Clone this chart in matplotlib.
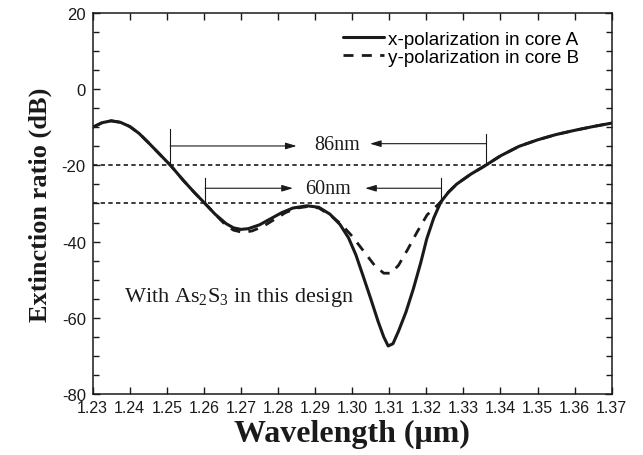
import matplotlib
matplotlib.use("Agg")
import matplotlib.pyplot as plt
from matplotlib.ticker import MultipleLocator, FormatStrFormatter

# ── Data ──────────────────────────────────────────────────────────────────────
# x-polarization in core A (solid)
wl_xpol = [1.2300, 1.2325, 1.2350, 1.2375, 1.2400, 1.2425, 1.2450, 1.2480,
           1.2510, 1.2545, 1.2575, 1.2603, 1.2630, 1.2660, 1.2680, 1.2700,
           1.2720, 1.2750, 1.2780, 1.2810, 1.2840, 1.2878, 1.2910, 1.2940,
           1.2967, 1.2990, 1.3010, 1.3030, 1.3050, 1.3070, 1.3085, 1.3097,
           1.3110, 1.3125, 1.3145, 1.3165, 1.3185, 1.3201, 1.3220, 1.3239,
           1.3260, 1.3282, 1.3320, 1.3358, 1.3400, 1.3450, 1.3500, 1.3550,
           1.3600, 1.3650, 1.3700]
er_xpol = [-10.0, -8.8, -8.3, -8.7, -9.8, -11.6, -14.0, -17.0,
           -20.0, -24.0, -27.2, -30.0, -32.8, -35.3, -36.4, -36.8,
           -36.6, -35.6, -34.0, -32.4, -31.2, -30.6, -31.0, -32.8,
           -35.5, -39.0, -43.5, -49.2, -55.0, -61.0, -65.0, -67.4,
           -66.8, -63.5, -58.5, -52.4, -45.5, -39.3, -33.8, -29.6,
           -27.0, -24.9, -22.3, -20.1, -17.5, -15.0, -13.3, -11.9,
           -10.8, -9.8, -8.9]

# y-polarization in core B (dashed)
wl_ypol = [1.2300, 1.2325, 1.2350, 1.2375, 1.2400, 1.2425, 1.2450, 1.2480,
           1.2510, 1.2545, 1.2575, 1.2603, 1.2630, 1.2660, 1.2680, 1.2705,
           1.2730, 1.2760, 1.2790, 1.2820, 1.2850, 1.2880, 1.2910, 1.2940,
           1.2970, 1.3000, 1.3030, 1.3060, 1.3085, 1.3105, 1.3125, 1.3150,
           1.3175, 1.3202, 1.3239, 1.3260, 1.3282, 1.3320, 1.3358, 1.3400,
           1.3450, 1.3500, 1.3550, 1.3600, 1.3650, 1.3700]
er_ypol = [-10.0, -8.8, -8.3, -8.7, -9.8, -11.6, -14.0, -17.0,
           -20.0, -24.0, -27.2, -30.0, -32.8, -35.8, -37.0, -37.6,
           -37.2, -36.0, -34.2, -32.4, -31.2, -30.8, -31.2, -33.0,
           -35.4, -38.6, -42.4, -46.2, -48.3, -48.3, -46.2, -42.0,
           -37.5, -33.0, -29.6, -27.0, -24.9, -22.3, -20.1, -17.5,
           -15.0, -13.3, -11.9, -10.8, -9.8, -8.9]

# bandwidth markers: 86 nm at the -20 dB level, 60 nm at the -30 dB level
BW_LEVELS  = [-20, -30]
BW_LEFT    = [1.2509, 1.2603]
BW_RIGHT   = [1.3360, 1.3239]
BW_TOPS    = [(-10.5, -11.8), (-23.3, -23.3)]
BW_ARROW_Y = [(-14.9, -14.3), (-26.0, -26.0)]
BW_TIPS    = [(1.2850, 1.3048), (1.2840, 1.3035)]
BW_LABELS  = ["86nm", "60nm"]
BW_TEXT_X  = [1.2958, 1.2935]

X_TICKS = [1.23, 1.24, 1.25, 1.26, 1.27, 1.28, 1.29, 1.30,
           1.31, 1.32, 1.33, 1.34, 1.35, 1.36, 1.37]
Y_TICKS = [-80, -60, -40, -20, 0, 20]

# ── Style ─────────────────────────────────────────────────────────────────────
plt.rcParams.update({
    "font.family":        ["Liberation Sans", "DejaVu Sans"],
    "axes.unicode_minus": False,
    "mathtext.fontset":   "custom",
    "mathtext.rm":        "Liberation Serif",
    "mathtext.it":        "Liberation Serif:italic",
    "mathtext.bf":        "Liberation Serif:bold",
})
INK   = "#1a1a1a"
SERIF = ["Liberation Serif", "DejaVu Serif"]
ARROW = "-|>,head_length=0.6,head_width=0.18"

fig = plt.figure(figsize=(6.43, 4.56), dpi=100)
ax = fig.add_axes([0.1442, 0.1338, 0.8071, 0.8355])

ax.plot(wl_xpol, er_xpol, color=INK, lw=2.2, solid_capstyle="round",
        label="x-polarization in core A")
ax.plot(wl_ypol, er_ypol, color=INK, lw=2.0, linestyle=(0, (3.6, 3.0)),
        label="y-polarization in core B")

for lvl in BW_LEVELS:
    ax.axhline(lvl, color=INK, lw=1.2, linestyle=(0, (2.6, 2.0)), zorder=1)

# ── Bandwidth annotations ─────────────────────────────────────────────────────
for i in range(2):
    xl, xr = BW_LEFT[i], BW_RIGHT[i]
    tl, tr = BW_TOPS[i]
    yl, yr = BW_ARROW_Y[i]
    tip_l, tip_r = BW_TIPS[i]
    ax.plot([xl, xl], [tl, BW_LEVELS[i]], color=INK, lw=0.8)
    ax.plot([xr, xr], [tr, BW_LEVELS[i]], color=INK, lw=0.8)
    ax.annotate("", xy=(tip_l, yl), xytext=(xl, yl),
                arrowprops=dict(arrowstyle=ARROW, color=INK, lw=0.8,
                                mutation_scale=11, shrinkA=0, shrinkB=0))
    ax.annotate("", xy=(tip_r, yr), xytext=(xr, yr),
                arrowprops=dict(arrowstyle=ARROW, color=INK, lw=0.8,
                                mutation_scale=11, shrinkA=0, shrinkB=0))
    ax.text(BW_TEXT_X[i], (yl + yr) / 2, BW_LABELS[i], family=SERIF,
            fontsize=14.5, ha="center", va="center", color=INK)

ax.text(1.2385, -54.5, "With As$_2$S$_3$ in this design", family=SERIF,
        fontsize=16, ha="left", va="center", color=INK)

# ── Axes ──────────────────────────────────────────────────────────────────────
ax.set_xlim(1.23, 1.37)
ax.set_ylim(-80, 20)
ax.set_xticks(X_TICKS)
ax.set_yticks(Y_TICKS)
ax.xaxis.set_major_formatter(FormatStrFormatter("%.2f"))
ax.yaxis.set_minor_locator(MultipleLocator(5))
ax.tick_params(which="both", direction="in", top=True, right=True,
               color=INK, width=1.0)
ax.tick_params(which="major", length=5)
ax.tick_params(which="minor", length=4)
ax.tick_params(axis="x", labelsize=11.5, pad=4, labelcolor=INK)
ax.tick_params(axis="y", labelsize=12, pad=5, labelcolor=INK)
for s in ax.spines.values():
    s.set_linewidth(1.1)
    s.set_color(INK)

ax.set_xlabel("Wavelength (\u03bcm)", family=SERIF, fontweight="bold",
              fontsize=23, labelpad=3, color=INK)
ax.set_ylabel("Extinction ratio (dB)", family=SERIF, fontweight="bold",
              fontsize=19, labelpad=7, color=INK)

ax.legend(loc="upper left", bbox_to_anchor=(0.482, 0.954), frameon=False,
          fontsize=13.6, handlelength=2.2, handletextpad=0.2,
          labelspacing=0.05, borderpad=0, borderaxespad=0)

fig.savefig("out.png", dpi=100, facecolor="white")
plt.close(fig)
